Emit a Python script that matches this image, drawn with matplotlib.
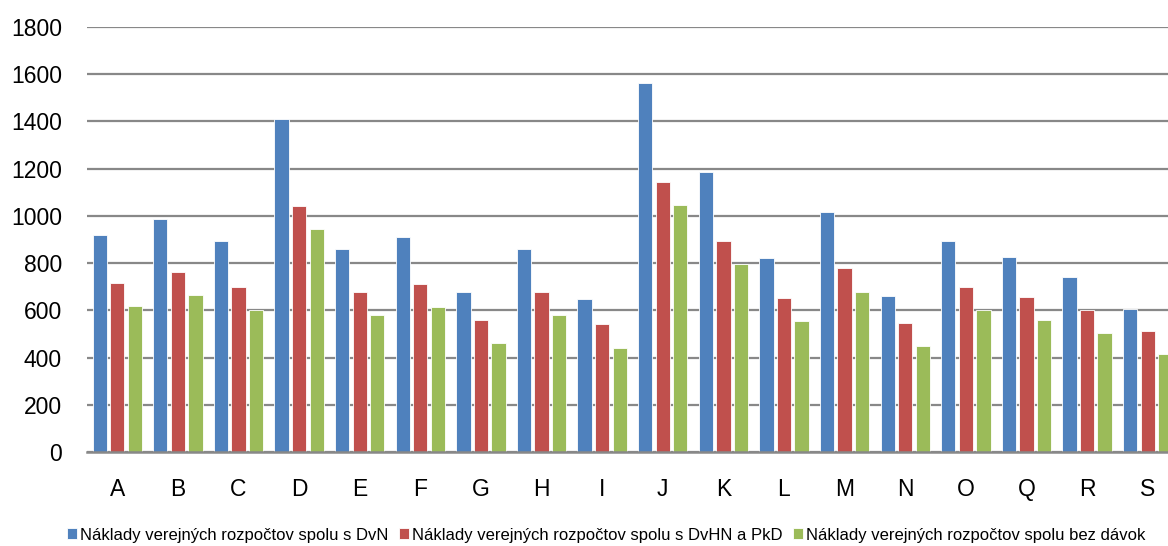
import numpy as np
import matplotlib
matplotlib.use("Agg")
import matplotlib.pyplot as plt

categories = ["A", "B", "C", "D", "E", "F", "G", "H", "I", "J",
              "K", "L", "M", "N", "O", "Q", "R", "S"]
s_dvn = [919, 987, 892, 1412, 860, 911, 680, 860, 649, 1564,
         1185, 822, 1015, 662, 892, 827, 743, 607]
s_dvhn = [716, 762, 700, 1043, 678, 713, 558, 678, 541, 1144,
          896, 654, 781, 548, 700, 656, 601, 512]
bez_davok = [618, 665, 601, 946, 580, 616, 460, 580, 442, 1046,
             795, 556, 680, 450, 601, 558, 504, 414]
series_names = [
    "Náklady verejných rozpočtov spolu s DvN",
    "Náklady verejných rozpočtov spolu s DvHN a PkD",
    "Náklady verejných rozpočtov spolu bez dávok",
]
y_ticks = [0, 200, 400, 600, 800, 1000, 1200, 1400, 1600, 1800]

plt.rcParams["font.family"] = ["Liberation Sans", "DejaVu Sans"]

fig = plt.figure(figsize=(11.68, 5.46), dpi=100)
ax = fig.add_axes([0.0745, 0.172, 0.934, 0.7785])

x = np.arange(len(categories))
colors = ["#4F81BD", "#C0504D", "#9BBB59"]
w = 0.235
offs = [-0.29, 0.0, 0.29]
for vals, off, c, name in zip([s_dvn, s_dvhn, bez_davok], offs, colors, series_names):
    ax.bar(x + off, vals, width=w, color=c, edgecolor="white", linewidth=0.6,
           label=name, zorder=3)

ax.set_xlim(-0.5, len(categories) - 0.5)
ax.set_ylim(0, 1800)
ax.set_yticks(y_ticks)
ax.set_xticks(x)
ax.set_xticklabels(categories)
ax.yaxis.grid(True, color="#888888", linewidth=1.6, zorder=0)
ax.set_axisbelow(True)
for s in ["top", "right", "left"]:
    ax.spines[s].set_visible(False)
ax.spines["bottom"].set_color("#888888")
ax.spines["bottom"].set_linewidth(1.8)
ax.spines["bottom"].set_zorder(4)
ax.tick_params(axis="both", length=0, labelsize=16.5, colors="black")
ax.tick_params(axis="y", pad=18)
ax.tick_params(axis="x", pad=19)

fig.legend(loc="center", bbox_to_anchor=(0.519, 0.02), ncol=3, frameon=False,
           fontsize=12, handlelength=0.6, handleheight=0.6,
           handletextpad=0.15, columnspacing=0.65, borderpad=0)

fig.savefig("out.png", dpi=100)
